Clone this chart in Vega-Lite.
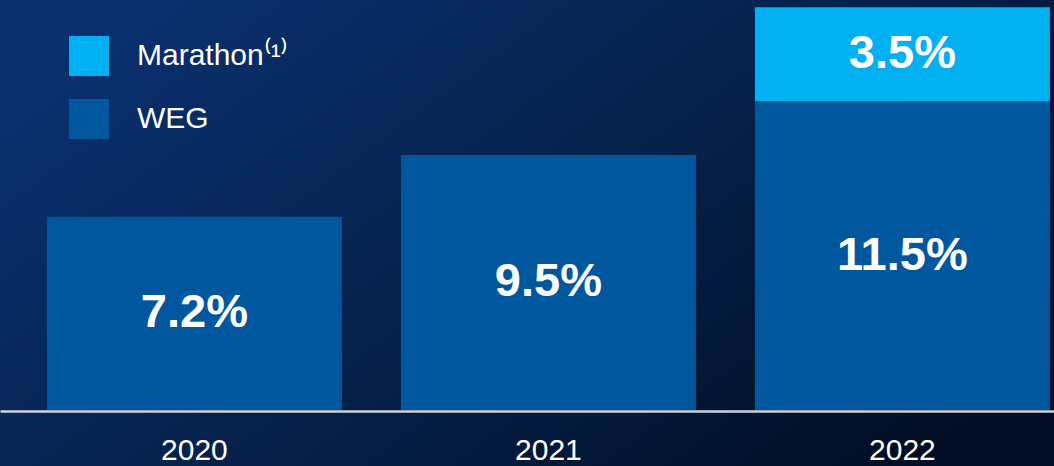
{
  "$schema": "https://vega.github.io/schema/vega-lite/v6.json",
  "width": 1054,
  "height": 466,
  "autosize": "none",
  "padding": 0,
  "background": "#051c48",
  "view": {
    "stroke": null,
    "fill": {
      "gradient": "linear",
      "x1": 0, "y1": 0.2, "x2": 1, "y2": 0.8,
      "stops": [
        {"offset": 0, "color": "#0a3070"},
        {"offset": 0.45, "color": "#06234f"},
        {"offset": 1, "color": "#010d24"}
      ]
    }
  },
  "data": {
    "values": [
      {"year": "2020", "series": "WEG", "value": 7.2},
      {"year": "2021", "series": "WEG", "value": 9.5},
      {"year": "2022", "series": "WEG", "value": 11.5},
      {"year": "2022", "series": "Marathon⁽¹⁾", "value": 3.5}
    ]
  },
  "transform": [
    {"stack": "value", "groupby": ["year"], "sort": [{"field": "series", "order": "descending"}], "as": ["y0", "y1"]},
    {"calculate": "(datum.y0 + datum.y1) / 2", "as": "mid"},
    {"calculate": "format(datum.value, '.1f') + '%'", "as": "label"}
  ],
  "encoding": {
    "x": {
      "field": "year",
      "type": "nominal",
      "title": null,
      "scale": {"paddingInner": 0.1667, "paddingOuter": 0.072, "align": 0.92},
      "axis": {
        "orient": "bottom",
        "offset": -55,
        "labelAngle": 0,
        "ticks": false,
        "tickSize": 0,
        "domainColor": "#cfd3d8",
        "domainWidth": 2.5,
        "labelColor": "#ffffff",
        "labelFont": "Liberation Sans",
        "labelFontSize": 30,
        "labelBaseline": "alphabetic",
        "labelPadding": 48,
        "grid": false
      }
    }
  },
  "layer": [
    {
      "mark": {"type": "bar"},
      "encoding": {
        "y": {"field": "y1", "type": "quantitative", "scale": {"domain": [-2.086, 15.27], "nice": false, "zero": false}, "axis": null},
        "y2": {"field": "y0"},
        "color": {
          "field": "series",
          "type": "nominal",
          "scale": {"domain": ["Marathon⁽¹⁾", "WEG"], "range": ["#00b0f0", "#00579e"]},
          "legend": {
            "title": null,
            "orient": "none",
            "legendX": 69,
            "legendY": 36,
            "symbolType": "square",
            "symbolSize": 1600,
            "symbolStrokeWidth": 0,
            "symbolOpacity": 1,
            "rowPadding": 23,
            "labelOffset": 28,
            "labelColor": "#ffffff",
            "labelFont": "Liberation Sans",
            "labelFontSize": 30,
            "labelLimit": 400
          }
        }
      }
    },
    {
      "mark": {"type": "text", "color": "#ffffff", "font": "Liberation Sans", "fontWeight": "bold", "fontSize": 47, "baseline": "middle", "align": "center"},
      "encoding": {
        "y": {"field": "mid", "type": "quantitative"},
        "text": {"field": "label"}
      }
    }
  ]
}
